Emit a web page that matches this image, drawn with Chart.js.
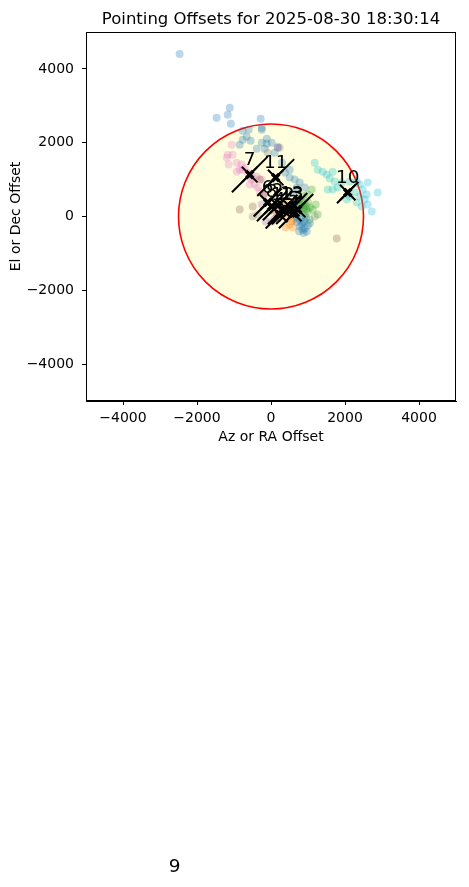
<!DOCTYPE html>
<html>
<head>
<meta charset="utf-8">
<script src="https://cdn.jsdelivr.net/npm/chart.js@4.4.1/dist/chart.umd.min.js"></script>
<style>
  html, body { margin: 0; padding: 0; background: #fff; }
  canvas { display: block; }
</style>
</head>
<body>
<canvas id="chart" width="469" height="887"></canvas>
<script>
// pointing offsets per target, [az, el]
const offsets1 = [[378,1189],[505,1054],[641,1000],[776,919],[695,784],[911,784],[587,649],[776,-81],[911,-135],[830,-216],[857,-351],[965,-405],[695,-27],[722,54],[911,-324],[776,-270],[560,108],[641,189],[992,-243],[850,-150],[700,-150],[940,-30],[1050,-180],[880,-450],[760,-400]]
const offsets2 = [[424,405],[370,270],[451,-27],[316,108],[480,150],[530,30]]
const offsets3 = [[776,460],[857,378],[938,297],[884,189],[776,135],[668,243],[992,135],[830,568],[722,351],[1046,243],[810,300],[870,250],[950,200]]
const offsets4 = [[200,-50],[280,80],[150,120]]
const offsets5 = [[19,-135],[154,-27],[-143,-135],[-251,324],[181,1892],[100,-60]]
const offsets6 = [[-846,189],[-495,270],[-305,1000],[1776,-595],[-200,600]]
const offsets7 = [[-1062,1946],[-1035,1676],[-1143,1406],[-927,1460],[-846,1270],[-711,1324],[-630,1189],[-522,1000],[-441,865],[-360,784],[-387,1081],[-576,865],[-251,1000],[-792,1406],[-927,1216],[-1197,1595],[-1170,1676],[-765,1270],[-495,1054],[-305,676],[-197,568]]
const offsets8 = [[-89,1730],[235,1865],[-495,0],[-360,54],[1181,0],[-30,150]]
const offsets9 = [[-2700,-17900],[-2500,-18100]]
const offsets10 = [[1181,1460],[1262,1270],[1397,1216],[1506,1135],[1668,1216],[1587,1027],[1722,946],[1533,730],[1668,730],[1803,784],[1911,919],[2127,946],[2316,946],[2397,865],[2614,919],[2479,730],[2587,595],[2397,541],[2533,460],[2316,378],[2722,135],[2884,649],[2262,649],[2127,541],[2046,460],[2614,324],[2452,270]]
const offsets11 = [[-2470,4406],[-1470,2676],[-1115,2946],[-1170,2757],[-1085,2514],[-280,2650],[-250,2405],[-251,2000],[-765,2325],[-603,2352],[-251,2352],[-657,2162],[-765,2081],[-549,2054],[-846,1946],[-116,2108],[-116,1973],[-387,1838],[-170,1838],[19,2000],[181,1865],[100,1730],[297,1460],[505,1270]]
const offsets12 = [[560,-135],[505,-216],[641,-81],[587,-297],[397,-297]]
const offsets13 = [[911,54],[641,54],[1100,730],[992,595],[1127,189],[1046,-81],[1262,54],[1208,324],[900,420],[760,250],[1000,380]]

const allOffsets = [offsets1, offsets2, offsets3, offsets4, offsets5, offsets6, offsets7,
  offsets8, offsets9, offsets10, offsets11, offsets12, offsets13]

// mean offset per target
const targetIds = [1, 2, 3, 4, 5, 6, 7, 8, 9, 10, 11, 12, 13]
const meanAz = [424, 181, 722, 235, 614, -89, -576, 19, -2603, 2073, 127, 316, 560]
const meanEl = [189, 297, 189, 54, 81, 378, 1135, 270, -18029, 649, 1054, 189, 216]
const meanSpread = [400, 400, 420, 380, 400, 380, 480, 400, 400, 290, 500, 400, 420]

const xTicks = [-4000, -2000, 0, 2000, 4000]
const yTicks = [-4000, -2000, 0, 2000, 4000]
const beamRadius = 2500

const tab10 = ["31,119,180", "255,127,14", "44,160,44", "214,39,40", "148,103,189",
  "140,86,75", "227,119,194", "127,127,127", "188,189,34", "23,190,207"]
const FONT = "'DejaVu Sans', sans-serif"
const minus = v => String(v).replace("-", "\u2212")

// "/" stroke through each mean
const slashData = []
targetIds.forEach((id, i) => {
  slashData.push({ x: meanAz[i] - meanSpread[i], y: meanEl[i] - meanSpread[i] })
  slashData.push({ x: meanAz[i] + meanSpread[i], y: meanEl[i] + meanSpread[i] })
  slashData.push({ x: meanAz[i], y: null })
})
const meanData = targetIds.map((id, i) => ({ x: meanAz[i], y: meanEl[i] }))

const overlay = {
  id: "overlay",
  beforeDatasetsDraw(chart) {
    const { ctx, chartArea: a, scales: { x, y } } = chart
    ctx.save()
    ctx.beginPath()
    ctx.rect(a.left, a.top, a.right - a.left, a.bottom - a.top)
    ctx.clip()
    const cx = x.getPixelForValue(0), cy = y.getPixelForValue(0)
    const r = x.getPixelForValue(beamRadius) - cx
    ctx.beginPath()
    ctx.arc(cx, cy, r, 0, Math.PI * 2)
    ctx.fillStyle = "#ffffe0"
    ctx.fill()
    ctx.lineWidth = 1.6
    ctx.strokeStyle = "#ff0000"
    ctx.stroke()
    ctx.restore()
  },
  afterDatasetsDraw(chart) {
    const { ctx, chartArea: a, scales: { x, y } } = chart
    ctx.save()
    // target numbers (not clipped)
    ctx.fillStyle = "#000"
    ctx.font = "18.5px " + FONT
    ctx.textAlign = "center"
    ctx.textBaseline = "alphabetic"
    targetIds.forEach((id, i) => {
      const px = x.getPixelForValue(meanAz[i])
      const py = y.getPixelForValue(meanEl[i])
      ctx.fillText(String(id), px, py - 10)
    })
    // frame
    ctx.strokeStyle = "#000"
    ctx.lineWidth = 1
    ctx.strokeRect(a.left + 0.5, a.top + 0.5, a.right - a.left - 1, a.bottom - a.top - 1)
    // title
    ctx.font = "16.5px " + FONT
    ctx.fillText("Pointing Offsets for 2025-08-30 18:30:14", (a.left + a.right) / 2, 24)
    ctx.restore()
  }
}

const datasets = [
  {
    type: "line", data: slashData, borderColor: "#000", borderWidth: 2,
    pointRadius: 0, spanGaps: false, order: 0
  },
  {
    data: meanData, pointStyle: "crossRot", pointRadius: 11, borderColor: "#000",
    borderWidth: 2, backgroundColor: "#000", order: 0
  },
  {
    data: meanData, pointStyle: "crossRot", pointRadius: 5, borderColor: "#000",
    borderWidth: 3.5, backgroundColor: "#000", order: 0
  },
  ...allOffsets.map((pts, i) => ({
    data: pts.map(p => ({ x: p[0], y: p[1] })),
    backgroundColor: `rgba(${tab10[i % 10]},0.3)`,
    borderColor: `rgba(${tab10[i % 10]},0.3)`,
    borderWidth: 0,
    pointRadius: 4,
    order: 1
  }))
]

const axisCommon = (ticks) => ({
  type: "linear",
  min: -5000,
  max: 5000,
  afterBuildTicks: s => { s.ticks = ticks.map(v => ({ value: v })) },
  grid: { drawOnChartArea: false, drawTicks: true, tickLength: 4, tickColor: "#000", tickWidth: 1 },
  border: { display: true, color: "#000", width: 1 },
  ticks: {
    color: "#000",
    font: { family: FONT, size: 14 },
    callback: v => minus(v),
  },
})

new Chart(document.getElementById("chart"), {
  type: "scatter",
  data: { datasets },
  options: {
    responsive: false,
    animation: false,
    devicePixelRatio: 1,
    layout: { padding: { left: 0, right: 13, top: 32, bottom: 441 } },
    plugins: { legend: { display: false }, tooltip: { enabled: false } },
    scales: {
      x: {
        ...axisCommon(xTicks),
        position: "bottom",
        afterFit: s => { s.height = 45 },
        ticks: { ...axisCommon(xTicks).ticks, padding: 5 },
        title: { display: true, text: "Az or RA Offset", color: "#000",
          font: { family: FONT, size: 14 }, padding: { top: 0, bottom: 0 } },
      },
      y: {
        ...axisCommon(yTicks),
        position: "left",
        afterFit: s => { s.width = 86 },
        ticks: { ...axisCommon(yTicks).ticks, padding: 8 },
        title: { display: true, text: "El or Dec Offset", color: "#000",
          font: { family: FONT, size: 14 }, padding: { top: 8, bottom: 0 } },
      },
    },
  },
  plugins: [overlay],
})
</script>
</body>
</html>
